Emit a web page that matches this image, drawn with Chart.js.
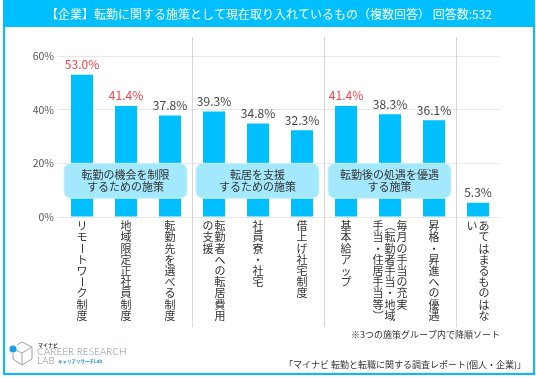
<!DOCTYPE html>
<html lang="ja">
<head>
<meta charset="utf-8">
<script src="https://cdn.jsdelivr.net/npm/chart.js@4.4.1/dist/chart.umd.min.js"></script>
<style>
  html, body { margin: 0; padding: 0; background: #ffffff; }
  #wrap { width: 536px; height: 378px; }
</style>
</head>
<body>
<div id="wrap"><canvas id="c" width="536" height="378"></canvas></div>
<script>
// ---------- data ----------
const categories = [
  'リモートワーク制度',
  '地域限定正社員制度',
  '転勤先を選べる制度',
  ['転勤者への転居費用', 'の支援'],
  '社員寮・社宅',
  '借上げ社宅制度',
  '基本給アップ',
  ['毎月の手当の充実', '（転勤者手当・地域', '手当・住居手当等）'],
  '昇格・昇進への優遇',
  ['あてはまるものはな', 'い']
];
const values = [53.0, 41.4, 37.8, 39.3, 34.8, 32.3, 41.4, 38.3, 36.1, 5.3];
const highlighted = [true, true, false, false, false, false, true, false, false, false];
const yTicks = [0, 20, 40, 60];
const groupLabels = [
  ['転勤の機会を制限', 'するための施策'],
  ['転居を支援', 'するための施策'],
  ['転勤後の処遇を優遇', 'する施策']
];
const groupFirst = [0, 3, 6];
const groupLast = [2, 5, 8];
const titleText = '【企業】転勤に関する施策として現在取り入れているもの（複数回答） 回答数:532';
const noteText = '※3つの施策グループ内で降順ソート';
const sourceText = '「マイナビ 転勤と転職に関する調査レポート(個人・企業)」';

// ---------- style ----------
const FONT = "'Noto Sans CJK JP', 'Noto Sans', sans-serif";
const CYAN = '#00bfff';
const BOX_TOP_VALUE = 20, BOX_BOTTOM_VALUE = 7;

function drawVerticalText(ctx, text, cx, topCenter, adv) {
  const rotate = 'ー（）()〜';
  [...text].forEach((ch, k) => {
    const y = topCenter + k * adv;
    if (rotate.includes(ch)) {
      ctx.save();
      ctx.translate(cx, y);
      ctx.rotate(Math.PI / 2);
      ctx.fillText(ch, 0, 0);
      ctx.restore();
    } else {
      ctx.fillText(ch, cx, y);
    }
  });
}

const decor = {
  id: 'decor',
  beforeDraw(chart) {
    const ctx = chart.ctx;
    ctx.save();
    ctx.fillStyle = '#ffffff';
    ctx.fillRect(0, 0, chart.width, chart.height);
    ctx.restore();
  },
  beforeDatasetsDraw(chart) {
    const ctx = chart.ctx, x = chart.scales.x, area = chart.chartArea;
    ctx.save();
    ctx.strokeStyle = '#d6d6d6';
    ctx.lineWidth = 1;
    [3, 6, 9].forEach(i => {
      const px = Math.round((x.getPixelForValue(i - 1) + x.getPixelForValue(i)) / 2) + 0.5;
      ctx.beginPath();
      ctx.moveTo(px, area.top - 19);
      ctx.lineTo(px, 327);
      ctx.stroke();
    });
    ctx.restore();
  },
  afterDatasetsDraw(chart) {
    const ctx = chart.ctx, x = chart.scales.x, y = chart.scales.y;
    ctx.save();
    // value labels
    ctx.font = '12px ' + FONT;
    ctx.textAlign = 'center';
    ctx.textBaseline = 'middle';
    values.forEach((v, i) => {
      ctx.fillStyle = highlighted[i] ? '#f2434b' : '#454545';
      ctx.fillText(v.toFixed(1) + '%', x.getPixelForValue(i), y.getPixelForValue(v) - 10);
    });
    // group boxes
    groupLabels.forEach((lines, g) => {
      const a = x.getPixelForValue(groupFirst[g]), b = x.getPixelForValue(groupLast[g]);
      const half = (x.getPixelForValue(1) - x.getPixelForValue(0)) / 2;
      const left = a - half + 4, right = b + half - 5;
      const top = y.getPixelForValue(BOX_TOP_VALUE), bottom = y.getPixelForValue(BOX_BOTTOM_VALUE);
      ctx.beginPath();
      ctx.roundRect(left, top, right - left, bottom - top, 7);
      ctx.fillStyle = '#a4e8fd';
      ctx.fill();
      ctx.strokeStyle = '#c9f2fe';
      ctx.lineWidth = 1;
      ctx.stroke();
      ctx.fillStyle = '#333333';
      ctx.font = '11px ' + FONT;
      const cy = (top + bottom) / 2;
      lines.forEach((ln, k) => {
        ctx.fillText(ln, (left + right) / 2, cy + (k - (lines.length - 1) / 2) * 11.5);
      });
    });
    // vertical category labels
    ctx.fillStyle = '#333333';
    ctx.font = '11px ' + FONT;
    categories.forEach((lab, i) => {
      const cols = Array.isArray(lab) ? lab : [lab];
      const cx = x.getPixelForValue(i);
      cols.forEach((col, j) => {
        const colX = cx + ((cols.length - 1) / 2 - j) * 12;
        drawVerticalText(ctx, col, colX, chart.chartArea.bottom + 9, 11.2);
      });
    });
    ctx.restore();
  },
  afterDraw(chart) {
    const ctx = chart.ctx;
    ctx.save();
    // frame and title bar
    ctx.fillStyle = CYAN;
    ctx.fillRect(3, 0, 532, 27);
    ctx.strokeStyle = CYAN;
    ctx.lineWidth = 2;
    ctx.strokeRect(4, 1, 530, 373);
    ctx.fillStyle = '#ffffff';
    ctx.font = '12px ' + FONT;
    ctx.textAlign = 'center';
    ctx.textBaseline = 'middle';
    ctx.fillText(titleText, 269, 14);
    // notes
    ctx.fillStyle = '#333333';
    ctx.font = '9px ' + FONT;
    ctx.textAlign = 'right';
    ctx.fillText(noteText, 500, 335);
    ctx.fillText(sourceText, 526, 365);
    // logo
    ctx.strokeStyle = '#9aa3ad';
    ctx.lineWidth = 1;
    ctx.beginPath();
    ctx.moveTo(22, 342); ctx.lineTo(32, 347); ctx.lineTo(32, 359); ctx.lineTo(22, 365);
    ctx.lineTo(13, 359); ctx.lineTo(13, 353);
    ctx.moveTo(22, 342); ctx.lineTo(17, 345);
    ctx.moveTo(22, 353); ctx.lineTo(32, 347);
    ctx.moveTo(22, 353); ctx.lineTo(22, 365);
    ctx.moveTo(22, 353); ctx.lineTo(14, 349);
    ctx.stroke();
    ctx.fillStyle = '#1a9fe0';
    ctx.beginPath(); ctx.arc(13, 349, 3.5, 0, Math.PI * 2); ctx.fill();
    ctx.textAlign = 'left';
    ctx.fillStyle = '#333333';
    ctx.font = 'bold 5px ' + FONT;
    ctx.fillText('マイナビ', 38, 345);
    ctx.fillStyle = '#8894a6';
    ctx.font = '300 10px Lato, sans-serif';
    ctx.fillText('CAREER RESEARCH', 37, 352);
    ctx.fillText('LAB', 37, 361);
    ctx.fillStyle = '#2a8fd0';
    ctx.font = 'bold 4.5px ' + FONT;
    ctx.fillText('キャリアリサーチLab', 58, 361);
    ctx.restore();
  }
};

new Chart(document.getElementById('c'), {
  type: 'bar',
  data: {
    labels: categories,
    datasets: [{
      data: values,
      backgroundColor: CYAN,
      borderWidth: 0,
      barPercentage: 0.5,
      categoryPercentage: 1.0
    }]
  },
  options: {
    responsive: false,
    devicePixelRatio: 1,
    animation: false,
    layout: { padding: { top: 56, right: 36, bottom: 161, left: 0 } },
    plugins: { legend: { display: false }, tooltip: { enabled: false }, title: { display: false } },
    scales: {
      x: { display: false },
      y: {
        min: 0, max: 60,
        afterBuildTicks: s => { s.ticks = yTicks.map(v => ({ value: v })); },
        afterFit: s => { s.width = 60; },
        border: { display: false },
        grid: { color: '#e8e8e8', lineWidth: 1, drawTicks: true, tickLength: 2 },
        ticks: {
          padding: 4,
          color: '#555555',
          font: { family: FONT, size: 10.5 },
          callback: v => v + '%'
        }
      }
    }
  },
  plugins: [decor]
});
</script>
</body>
</html>
